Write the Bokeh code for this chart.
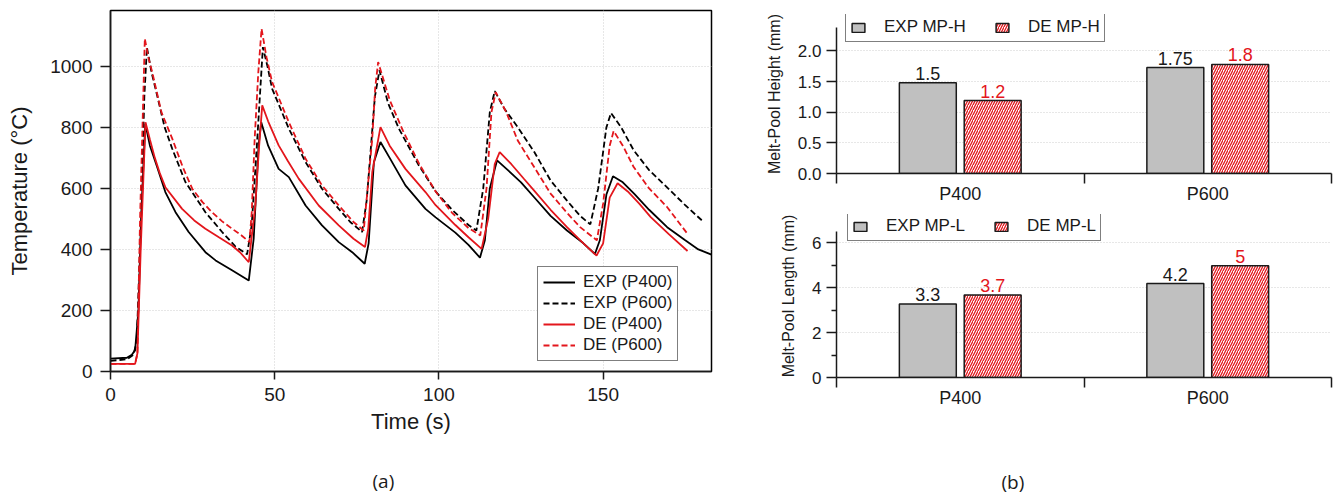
from bokeh.plotting import figure
from bokeh.models import (Range1d, Legend, LegendItem, Title, FixedTicker,
                          ColumnDataSource, NumeralTickFormatter)
from bokeh.layouts import row, column
from bokeh.transform import dodge
from bokeh.embed import file_html
from bokeh.resources import INLINE
from bokeh.core.properties import value

FONT = "Liberation Sans"
RED = "#e3161c"
INK = "#1a1a1a"

# ---------------- (a) temperature histories ----------------
t_exp400 = [0, 5, 6.5, 7.5, 8.5, 9.3, 10.6,
            12, 14.2, 16.7, 19.8, 23.8, 28.9, 32, 37, 42.1,
            43.6, 45.1, 45.9,
            48, 51.2, 54.3, 59.4, 64.4, 69.5, 73.6, 77.4,
            78.6, 80.2, 82.2,
            85, 89.8, 95.9, 99, 105, 109, 112.5,
            114, 115.5, 117.7,
            121, 125, 129, 134, 139, 144, 147.5,
            149, 151, 153,
            156, 159.5, 164, 169.5, 175, 179, 183]
T_exp400 = [42, 45, 55, 70, 200, 500, 812,
            740, 670, 588, 522, 457, 391, 364, 332, 298,
            435, 741, 817,
            740, 664, 637, 544, 479, 424, 391, 353,
            420, 686, 752,
            700, 610, 533, 505, 455, 415, 373,
            430, 600, 692,
            660, 620, 571, 510, 462, 420, 385,
            430, 580, 640,
            620, 582, 530, 473, 430, 400, 383]

t_exp600 = [0, 5, 7, 8, 9.3, 10.3, 11.1,
            12.5, 13.7, 16.5, 18.8, 22.8, 25, 28.9, 34, 38, 41.6,
            43, 44.7, 46.4,
            47.8, 49.2, 54.3, 59.4, 64.4, 69.5, 73, 76.6,
            78, 79.1, 80.5, 81.9,
            84.5, 87.8, 93.9, 99, 104, 109, 111.4,
            113.5, 115.5, 117,
            120, 124, 129, 134, 139, 143, 146.1,
            148.5, 151, 152.4,
            155.5, 159.3, 164, 169.4, 175, 180.6]
T_exp600 = [35, 40, 55, 100, 500, 900, 1062,
            980, 927, 800, 730, 621, 585, 522, 457, 410, 384,
            480, 763, 1063,
            1000, 927, 796, 686, 599, 533, 490, 457,
            560, 708, 900, 987,
            880, 796, 675, 590, 530, 480, 462,
            600, 850, 919,
            860, 801, 720, 626, 560, 510, 482,
            600, 800, 847,
            800, 725, 660, 604, 545, 490]

t_de400 = [0, 7.5, 8.2, 9.2, 10.65,
           12, 13.5, 15, 16.7, 21.8, 25.5, 28.9, 33, 37, 39.5, 42.1,
           44.1, 45.2, 46.2,
           48, 51.2, 54, 57.3, 63.4, 69.5, 74, 77.5,
           78.5, 79.7, 82.2,
           85, 89.8, 95.9, 99, 105, 109, 113,
           115, 117, 118.5,
           122, 126, 129, 134, 139, 144, 148,
           150, 152, 154.4,
           157.5, 161, 164.5, 170, 175.7]
T_de400 = [25, 25, 60, 400, 817,
           760, 700, 650, 604, 533, 495, 468, 440, 413, 390, 358,
           544, 730, 872,
           820, 741, 690, 632, 544, 479, 435, 408,
           470, 653, 801,
           740, 664, 588, 545, 480, 440, 402,
           500, 680, 719,
           680, 630, 593, 530, 473, 420, 380,
           420, 570, 617,
           590, 550, 506, 450, 395]

t_de600 = [0, 7.5, 8.2, 9.0, 10.45,
           11.5, 12.7, 15.5, 18.8, 22, 24.9, 28, 30.9, 34, 37, 40, 42.3,
           43, 43.9, 45, 46,
           47.5, 49.2, 54.3, 59.4, 64.4, 69.5, 74, 77.1,
           78.3, 79.7, 80.6, 81.5,
           85, 89, 94, 99, 104, 109, 112.6,
           114.5, 116, 117.3,
           120.5, 124, 129, 134, 139, 143, 148.1,
           150, 152, 153.2,
           156, 159.3, 164, 169.4, 175.7]
T_de600 = [25, 25, 60, 500, 1091,
           1030, 981, 850, 763, 670, 599, 555, 522, 492, 468, 445, 424,
           520, 763, 980, 1123,
           1030, 949, 817, 697, 610, 544, 490, 462,
           600, 763, 930, 1014,
           890, 790, 680, 590, 520, 470, 446,
           600, 850, 915,
           850, 757, 670, 583, 520, 473, 430,
           550, 740, 788,
           740, 670, 600, 540, 451]

x_ticks_a = [0, 50, 100, 150]
y_ticks_a = [0, 200, 400, 600, 800, 1000]
series_labels = ["EXP (P400)", "EXP (P600)", "DE (P400)", "DE (P600)"]

# ---------------- (b) melt pool dimensions ----------------
categories = ["P400", "P600"]
exp_h = [1.48, 1.73]
de_h = [1.19, 1.78]
exp_h_lbl = ["1.5", "1.75"]
de_h_lbl = ["1.2", "1.8"]
exp_l = [3.27, 4.18]
de_l = [3.67, 4.97]
exp_l_lbl = ["3.3", "4.2"]
de_l_lbl = ["3.7", "5"]


def style_text_axis(ax, tick_size, label_size):
    ax.major_label_text_font = FONT
    ax.major_label_text_font_size = tick_size
    ax.major_label_text_color = INK
    ax.axis_label_text_font = FONT
    ax.axis_label_text_font_size = label_size
    ax.axis_label_text_font_style = "normal"
    ax.axis_label_text_color = INK
    ax.axis_line_color = INK
    ax.axis_line_width = 1.5
    ax.major_tick_line_color = INK
    ax.major_tick_line_width = 1.5
    ax.minor_tick_line_color = INK
    ax.minor_tick_line_width = 1.5
    ax.major_tick_in = 0
    ax.minor_tick_in = 0


def panel_title(text, offset, standoff):
    return Title(text=text, align="left", offset=offset, standoff=standoff,
                 text_font="Open Sans", text_font_size="19px",
                 text_font_style="normal", text_color=INK)


p = figure(width=748, height=494, x_range=Range1d(0, 183), y_range=Range1d(0, 1183),
           output_backend="svg", toolbar_location=None, title=None,
           min_border_left=110, min_border_right=37, min_border_top=10, min_border_bottom=123)
p.outline_line_color = "black"
p.outline_line_width = 1.5
p.background_fill_color = "white"
p.border_fill_color = "white"

p.xaxis.ticker = FixedTicker(ticks=x_ticks_a)
p.yaxis.ticker = FixedTicker(ticks=y_ticks_a)
p.xgrid.ticker = FixedTicker(ticks=x_ticks_a[1:])
p.ygrid.ticker = FixedTicker(ticks=y_ticks_a[1:])
for g in (p.xgrid, p.ygrid):
    g.grid_line_color = "#cfcfcf"
    g.grid_line_dash = "1 2"
    g.grid_line_width = 1
style_text_axis(p.xaxis[0], "19px", "22px")
style_text_axis(p.yaxis[0], "19px", "22px")
p.xaxis.axis_label = "Time (s)"
p.yaxis.axis_label = "Temperature (°C)"
p.xaxis.major_tick_out = 8
p.yaxis.major_tick_out = 10
p.xaxis.minor_tick_out = 0
p.yaxis.minor_tick_out = 0
p.xaxis.major_label_standoff = 8
p.yaxis.major_label_standoff = 8
p.xaxis.axis_label_standoff = 5
p.yaxis.axis_label_standoff = 15

r1 = p.line(t_exp400, T_exp400, line_color="black", line_width=1.8)
r2 = p.line(t_exp600, T_exp600, line_color="black", line_width=1.8, line_dash="6 3")
r3 = p.line(t_de400, T_de400, line_color=RED, line_width=1.8)
r4 = p.line(t_de600, T_de600, line_color=RED, line_width=1.8, line_dash="6 3")

leg_a = Legend(items=[LegendItem(label=series_labels[i], renderers=[r])
                      for i, r in enumerate([r1, r2, r3, r4])],
               location=(427, 10), orientation="vertical",
               border_line_color="black", border_line_width=1.5,
               background_fill_color="white", background_fill_alpha=1,
               label_text_font=FONT, label_text_font_size="17px", label_text_color=INK,
               glyph_width=32, glyph_height=18, label_height=18, spacing=1,
               padding=5, margin=0, label_standoff=8)
p.add_layout(leg_a)
p.add_layout(panel_title(" ", 0, 1), "below")      # spacer
p.add_layout(panel_title("(a)", 262, 0), "below")


def bar_panel(height, top_b, bot_b, y_end, y_bounds, ticks, minor, exp_vals, de_vals,
              exp_lbl, de_lbl, ylabel, names, leg_loc, fmt):
    xc = [i + 0.5 for i in range(len(categories))]
    src = ColumnDataSource(dict(xc=xc, exp=exp_vals, de=de_vals,
                                exp_lbl=exp_lbl, de_lbl=de_lbl))
    q = figure(width=585, height=height, x_range=Range1d(0, len(categories)),
               y_range=Range1d(0, y_end), output_backend="svg", toolbar_location=None,
               title=None, min_border_left=88, min_border_right=2,
               min_border_top=top_b, min_border_bottom=bot_b)
    q.outline_line_color = None
    q.xgrid.visible = False
    q.ygrid.ticker = FixedTicker(ticks=ticks[1:])
    q.ygrid.grid_line_color = "#cfcfcf"
    q.ygrid.grid_line_dash = "1 2"
    xa, ya = q.xaxis[0], q.yaxis[0]
    style_text_axis(xa, "18px", "16px")
    style_text_axis(ya, "17px", "16px")
    xa.ticker = FixedTicker(ticks=xc, minor_ticks=list(range(len(categories) + 1)))
    xa.major_label_overrides = {xc[i]: c for i, c in enumerate(categories)}
    xa.major_tick_out = 0
    xa.minor_tick_out = 10
    xa.major_label_standoff = 0
    ya.ticker = FixedTicker(ticks=ticks, minor_ticks=minor)
    ya.formatter = NumeralTickFormatter(format=fmt)
    ya.bounds = y_bounds
    ya.major_tick_out = 10
    ya.minor_tick_out = 5 if minor else 0
    ya.major_label_standoff = 5
    ya.axis_label = ylabel
    ya.axis_label_standoff = 12

    b1 = q.vbar(x=dodge("xc", -0.131, range=q.x_range), top="exp", width=0.23, source=src,
                fill_color="#c0c0c0", line_color=INK, line_width=1.5)
    b2 = q.vbar(x=dodge("xc", 0.131, range=q.x_range), top="de", width=0.23, source=src,
                fill_color="white", hatch_pattern="/", hatch_color=RED, hatch_scale=5,
                hatch_weight=1.3, line_color=INK, line_width=1.5)
    q.text(x=dodge("xc", -0.131, range=q.x_range), y="exp", text="exp_lbl", source=src,
           text_align="center", text_baseline="bottom", y_offset=-3,
           text_font=value(FONT), text_font_size="18px", text_color=INK)
    q.text(x=dodge("xc", 0.131, range=q.x_range), y="de", text="de_lbl", source=src,
           text_align="center", text_baseline="bottom", y_offset=-3,
           text_font=value(FONT), text_font_size="18px", text_color=RED)
    leg = Legend(items=[LegendItem(label=names[0], renderers=[b1]),
                        LegendItem(label=names[1], renderers=[b2])],
                 location=leg_loc, orientation="horizontal",
                 border_line_color="black", border_line_width=1.5,
                 background_fill_color="white", background_fill_alpha=1,
                 label_text_font=FONT, label_text_font_size="17px", label_text_color=INK,
                 glyph_width=16, glyph_height=11, label_height=20, spacing=28,
                 padding=4, margin=0, label_standoff=18)
    q.add_layout(leg)
    return q


# top panel: frame y 14..174 (160 px), bottom panel: frame y 214..379 (165 px)
q1 = bar_panel(206, 14, 32, 2.595, (-0.17, 2.38), [0, 0.5, 1.0, 1.5, 2.0], [], exp_h, de_h,
               exp_h_lbl, de_h_lbl, "Melt-Pool Height (mm)", ["EXP MP-H", "DE MP-H"],
               (9, 131), "0.0")
q2 = bar_panel(288, 8, 115, 7.25, (-0.48, 6.5), [0, 2, 4, 6], [1, 3, 5], exp_l, de_l,
               exp_l_lbl, de_l_lbl, "Melt-Pool Length (mm)", ["EXP MP-L", "DE MP-L"],
               (11, 136), "0")
q2.add_layout(panel_title(" ", 0, 28), "below")    # spacer
q2.add_layout(panel_title("(b)", 165, 0), "below")

layout = row(p, column(q1, q2, spacing=0), spacing=0)
open("out.html", "w").write(file_html(layout, INLINE))
